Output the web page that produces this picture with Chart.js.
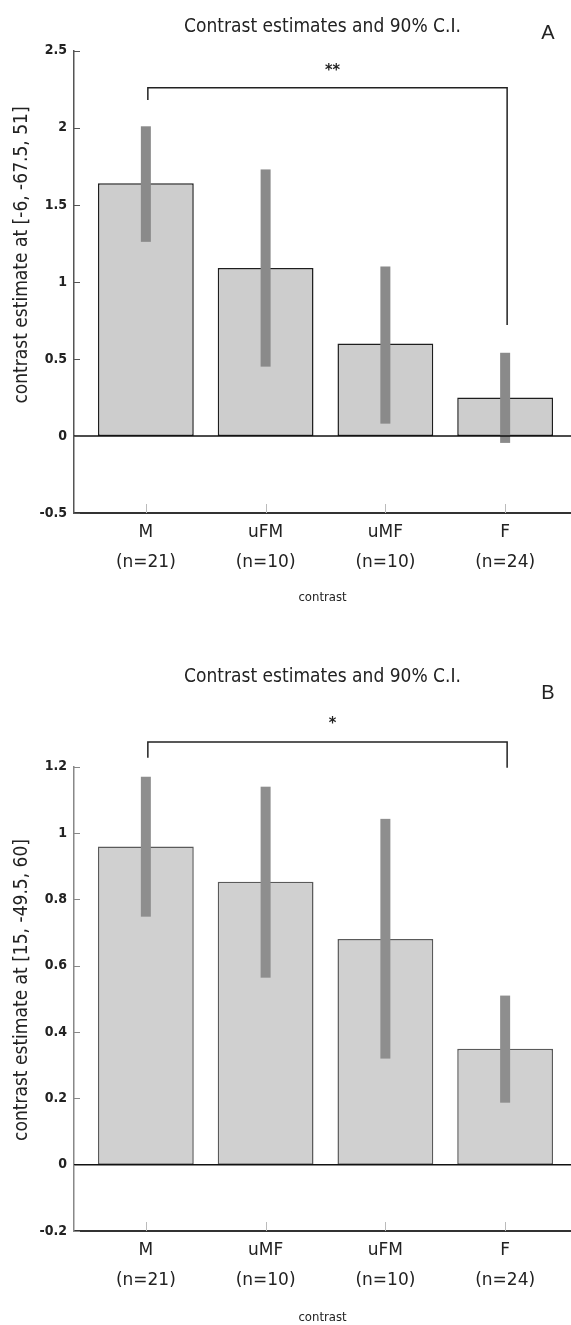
<!DOCTYPE html>
<html>
<head>
<meta charset="utf-8">
<script src="https://cdn.jsdelivr.net/npm/chart.js@4.4.1/dist/chart.umd.min.js"></script>
<style>
  body { margin: 0; background: #fff; width: 571px; height: 1325px; overflow: hidden; }
  .panel { position: absolute; left: 0; }
  #panelA { top: 0; }
  #panelB { top: 640px; }
</style>
</head>
<body>
<div class="panel" id="panelA"><canvas id="chartA" width="571" height="640"></canvas></div>
<div class="panel" id="panelB"><canvas id="chartB" width="571" height="685"></canvas></div>

<script>
// ---- data, panel A ----
var xPos = [1, 2, 3, 4];
var labelsA = [["M", "(n=21)"], ["uFM", "(n=10)"], ["uMF", "(n=10)"], ["F", "(n=24)"]];
var valuesA = [1.64, 1.09, 0.60, 0.25];
var ciLowA = [1.26, 0.45, 0.08, -0.045];
var ciHighA = [2.01, 1.73, 1.10, 0.54];
var bracketA = [2.26, 2.18, 0.72];   // top, left foot, right foot
var starsA = ["**", 2.37];

// ---- data, panel B ----
var labelsB = [["M", "(n=21)"], ["uMF", "(n=10)"], ["uFM", "(n=10)"], ["F", "(n=24)"]];
var valuesB = [0.96, 0.853, 0.681, 0.35];
var ciLowB = [0.748, 0.564, 0.32, 0.187];
var ciHighB = [1.17, 1.14, 1.043, 0.51];
var bracketB = [1.275, 1.227, 1.197];
var starsB = ["*", 1.33];

var narrow = "'Liberation Sans Narrow', 'DejaVu Sans Condensed', 'Liberation Sans', sans-serif";

// extra drawing: error bars, zero line, inward ticks, bracket, titles
var extras = {
  id: 'extras',
  afterDatasetsDraw: function(chart, args, o) {
    var ctx = chart.ctx, xs = chart.scales.x, ys = chart.scales.y, a = chart.chartArea;
    ctx.save();
    // error bars
    ctx.fillStyle = o.ciColor;
    for (var i = 0; i < xPos.length; i++) {
      var px = xs.getPixelForValue(xPos[i]);
      var y1 = ys.getPixelForValue(o.ciHigh[i]);
      var y2 = ys.getPixelForValue(o.ciLow[i]);
      ctx.fillRect(px - 5, y1, 10, y2 - y1);
    }
    // zero line
    var y0 = ys.getPixelForValue(0);
    ctx.strokeStyle = '#111';
    ctx.lineWidth = 1.5;
    ctx.beginPath(); ctx.moveTo(a.left, y0); ctx.lineTo(a.right, y0); ctx.stroke();
    // inward ticks
    ctx.strokeStyle = o.axisColor;
    ctx.lineWidth = 1;
    ys.ticks.forEach(function(t) {
      var py = Math.round(ys.getPixelForValue(t.value)) + 0.5;
      ctx.beginPath(); ctx.moveTo(a.left, py); ctx.lineTo(a.left + 6, py); ctx.stroke();
    });
    ctx.strokeStyle = '#bbb';
    xPos.forEach(function(v) {
      var px = Math.round(xs.getPixelForValue(v)) + 0.5;
      ctx.beginPath(); ctx.moveTo(px, a.bottom); ctx.lineTo(px, a.bottom - 9); ctx.stroke();
    });
    // significance bracket
    var xl = xs.getPixelForValue(xPos[0]) + 2, xr = xs.getPixelForValue(xPos[3]) + 2;
    var yt = ys.getPixelForValue(o.bracket[0]);
    ctx.strokeStyle = '#222';
    ctx.lineWidth = 1.5;
    ctx.beginPath();
    ctx.moveTo(xl, ys.getPixelForValue(o.bracket[1]));
    ctx.lineTo(xl, yt);
    ctx.lineTo(xr, yt);
    ctx.lineTo(xr, ys.getPixelForValue(o.bracket[2]));
    ctx.stroke();
    ctx.fillStyle = '#222';
    ctx.font = 'bold 16px ' + narrow;
    ctx.textAlign = 'center';
    ctx.textBaseline = 'middle';
    ctx.fillText(o.stars[0], (xl + xr) / 2 + 5, ys.getPixelForValue(o.stars[1]));
    // y title
    ctx.font = '19px ' + narrow;
    ctx.translate(22, o.yTitleY);
    ctx.rotate(-Math.PI / 2);
    ctx.fillText(o.yTitle, 0, 0);
    ctx.setTransform(1, 0, 0, 1, 0, 0);
    // panel letter
    ctx.font = '20px "Liberation Sans", Arial, sans-serif';
    ctx.fillText(o.letter[0], 548, o.letter[1]);
    ctx.restore();
  }
};

function makeChart(id, cfg) {
  return new Chart(document.getElementById(id), {
    type: 'bar',
    data: {
      datasets: [{
        data: xPos.map(function(x, i) { return { x: x, y: cfg.values[i] }; }),
        backgroundColor: cfg.barColor,
        borderColor: cfg.barBorder,
        borderWidth: 1.5,
        borderSkipped: false,
        categoryPercentage: 1,
        barPercentage: 0.8
      }]
    },
    options: {
      responsive: false,
      animation: false,
      events: [],
      layout: { padding: 0 },
      scales: {
        x: {
          type: 'linear',
          bounds: 'data',
          min: 0.4, max: 4.55,
          offset: false,
          afterBuildTicks: function(s) { s.ticks = xPos.map(function(v) { return { value: v }; }); },
          ticks: {
            autoSkip: false, maxRotation: 0, padding: 5,
            font: { family: "'DejaVu Sans', sans-serif", size: 17, lineHeight: '30px' },
            color: '#222',
            callback: function(v, i) { return cfg.labels[i]; }
          },
          grid: { display: false, drawTicks: false },
          border: { display: true, color: '#333', width: 2 },
          title: {
            display: true, text: 'contrast', color: '#222',
            font: { family: narrow, size: 13 },
            padding: { top: 0, bottom: cfg.xTitlePad }
          },
          afterFit: function(s) { s.height = cfg.xHeight; }
        },
        y: {
          bounds: 'data',
          min: cfg.yMin, max: cfg.yMax,
          ticks: {
            stepSize: cfg.yStep, padding: 7, color: '#222',
            font: { family: narrow, size: 14, weight: 'bold' },
            callback: function(v) { return String(+v.toFixed(2)); }
          },
          grid: { display: false, drawTicks: false },
          border: { display: true, color: cfg.axisColor, width: 1.5 },
          afterFit: function(s) { s.width = 74; }
        }
      },
      plugins: {
        legend: { display: false },
        tooltip: { enabled: false },
        title: {
          display: true, fullSize: false,
          text: 'Contrast estimates and 90% C.I.',
          color: '#222',
          font: { family: narrow, size: 19, weight: 'normal' },
          padding: cfg.titlePad
        },
        extras: {
          ciLow: cfg.ciLow, ciHigh: cfg.ciHigh, ciColor: cfg.ciColor,
          axisColor: cfg.axisColor, bracket: cfg.bracket, stars: cfg.stars,
          yTitle: cfg.yTitle, yTitleY: cfg.yTitleY, letter: cfg.letter
        }
      }
    },
    plugins: [extras]
  });
}

makeChart('chartA', {
  labels: labelsA, values: valuesA, ciLow: ciLowA, ciHigh: ciHighA,
  bracket: bracketA, stars: starsA,
  yMin: -0.5, yMax: 2.5, yStep: 0.5,
  barColor: '#cdcdcd', barBorder: '#1e1e1e', ciColor: '#8a8a8a', axisColor: '#555',
  titlePad: { top: 16, bottom: 12 },
  xHeight: 127, xTitlePad: 35,
  yTitle: 'contrast estimate at [-6, -67.5, 51]', yTitleY: 255,
  letter: ['A', 33]
});

makeChart('chartB', {
  labels: labelsB, values: valuesB, ciLow: ciLowB, ciHigh: ciHighB,
  bracket: bracketB, stars: starsB,
  yMin: -0.2, yMax: 1.2, yStep: 0.2,
  barColor: '#d0d0d0', barBorder: '#5a5a5a', ciColor: '#8e8e8e', axisColor: '#888',
  titlePad: { top: 26, bottom: 78 },
  xHeight: 94, xTitlePad: 0,
  yTitle: 'contrast estimate at [15, -49.5, 60]', yTitleY: 350,
  letter: ['B', 53]
});
</script>
</body>
</html>
